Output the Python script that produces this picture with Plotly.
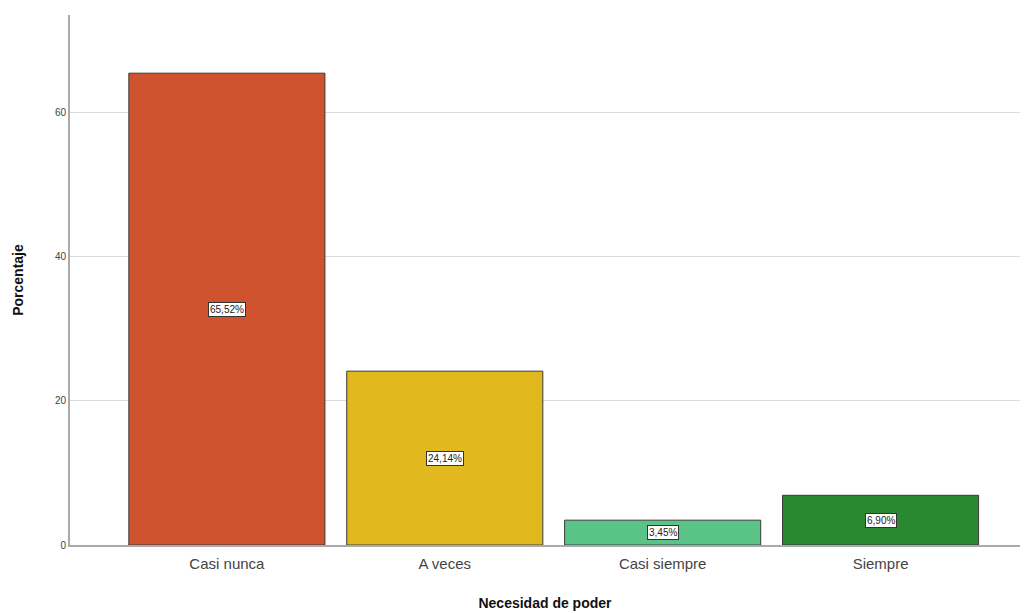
import plotly.graph_objects as go

categorias = ["Casi nunca", "A veces", "Casi siempre", "Siempre"]
porcentajes = [65.52, 24.14, 3.45, 6.90]
etiquetas = ["65,52%", "24,14%", "3,45%", "6,90%"]
colores = ["#D05330", "#E1B91E", "#59C485", "#2A8830"]
ticks_y = [0, 20, 40, 60]

fig = go.Figure()
fig.add_trace(go.Bar(
    x=categorias,
    y=porcentajes,
    marker=dict(color=colores, line=dict(color="#3a3a3a", width=1)),
    width=0.9,
    hoverinfo="skip",
))

# value labels in boxed text at the middle of each bar
for cat, val, txt in zip(categorias, porcentajes, etiquetas):
    fig.add_annotation(
        x=cat, y=val / 2, text=txt, showarrow=False,
        font=dict(family="Liberation Sans, Arial", size=10, color="#222"),
        bgcolor="white", bordercolor="#333", borderwidth=1, borderpad=1,
    )

fig.update_layout(
    width=1026, height=613,
    margin=dict(l=70, r=6, t=15, b=68),
    paper_bgcolor="white", plot_bgcolor="white",
    showlegend=False,
    font=dict(family="Liberation Sans, Arial", color="#333"),
    xaxis=dict(
        range=[-0.72, 3.64],
        automargin=False,
        showline=True, linecolor="#aaaaaa", linewidth=2,
        ticks="outside", ticklen=4, tickcolor="rgba(0,0,0,0)",
        tickfont=dict(size=15, color="#444"),
        title=dict(text="<b>Necesidad de poder</b>", font=dict(size=14, color="#111"), standoff=27),
    ),
    yaxis=dict(
        range=[0, 73.6],
        automargin=False,
        tickvals=ticks_y,
        showline=True, linecolor="#aaaaaa", linewidth=2,
        showgrid=True, gridcolor="#dcdcdc", gridwidth=1,
        zeroline=False,
        ticks="", tickfont=dict(size=10, color="#444"),
        title=dict(text="<b>Porcentaje</b>", font=dict(size=14, color="#111"), standoff=28),
    ),
)

fig.write_html("out.html")
